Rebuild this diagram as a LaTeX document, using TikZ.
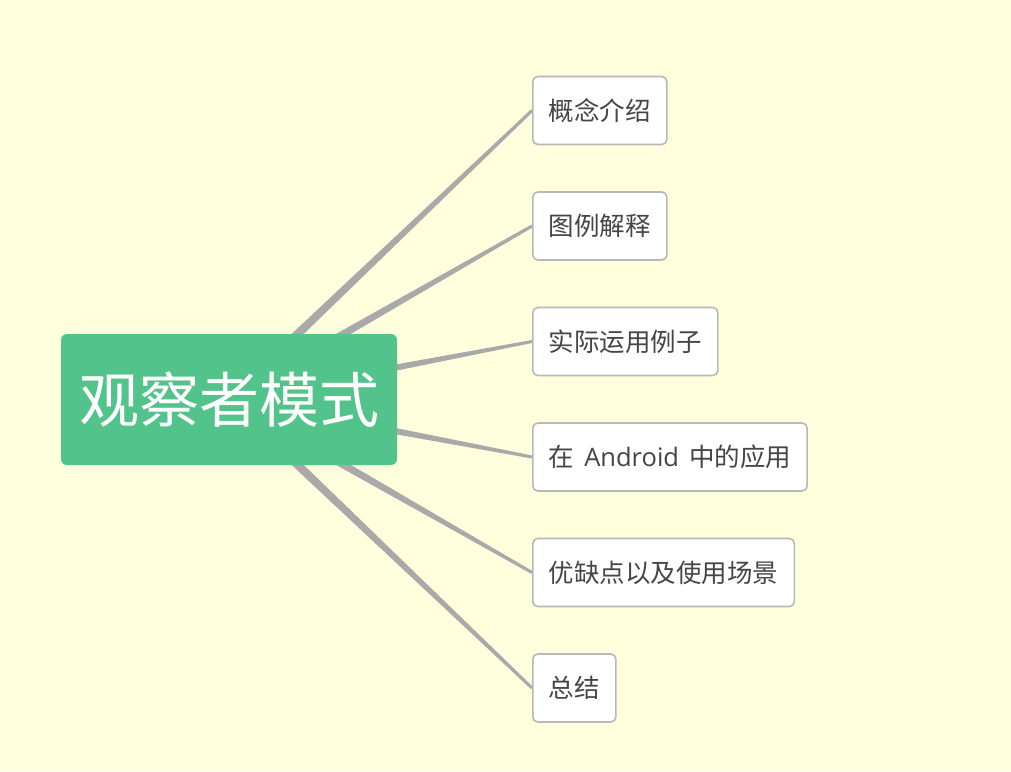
\documentclass[tikz,border=0pt]{standalone}
\usepackage{fontspec}
\setmainfont{Noto Sans CJK SC}
\newfontfamily\latinfont{Open Sans}
\usetikzlibrary{calc}
\pgfdeclarelayer{linklayer}
\pgfsetlayers{linklayer,main}
\definecolor{bgc}{HTML}{FFFFDD}
\definecolor{rootc}{HTML}{52C48B}
\definecolor{linkc}{HTML}{A9A9A9}
\definecolor{leafline}{HTML}{B8B8B8}
\definecolor{leaftext}{HTML}{454545}
\newcommand\taperlink[2]{%
  \fill[linkc] ($(#1.center)!5pt!90:(#2.west)$) -- ($(#2.west)!1.5pt!-90:(#1.center)$)
    -- ($(#2.west)!1.5pt!90:(#1.center)$) -- ($(#1.center)!5pt!-90:(#2.west)$) -- cycle;}
\begin{document}
\begin{tikzpicture}[x=1pt,y=-1pt,
  rootbox/.style={fill=rootc, rounded corners=6pt, minimum width=336pt, minimum height=131pt,
    inner sep=0pt, text=white, font=\fontsize{60}{70}\selectfont},
  leafbox/.style={draw=leafline, line width=1.6pt, fill=white, rounded corners=5pt,
    minimum height=68pt, inner xsep=16pt, inner ysep=0pt, anchor=west, text=leaftext,
    font=\fontsize{25.5}{30}\selectfont}]
\begin{pgfonlayer}{linklayer}
\fill[bgc] (0,0) rectangle (1011,771);
\end{pgfonlayer}
\useasboundingbox (0,0) rectangle (1011,771);
\node[rootbox] (root) at (229,399.5) {观察者模式};
\node[leafbox] (l1) at (532,110.5) {概念介绍};
\node[leafbox] (l2) at (532,226) {图例解释};
\node[leafbox] (l3) at (532,341.5) {实际运用例子};
\node[leafbox] (l4) at (532,457) {在\hspace{10pt}{\latinfont\fontsize{25.5}{30}\selectfont Android}\hspace{10pt}中的应用};
\node[leafbox] (l5) at (532,572.5) {优缺点以及使用场景};
\node[leafbox] (l6) at (532,688) {总结};
\begin{pgfonlayer}{linklayer}
\taperlink{root}{l1}
\taperlink{root}{l2}
\taperlink{root}{l3}
\taperlink{root}{l4}
\taperlink{root}{l5}
\taperlink{root}{l6}
\end{pgfonlayer}
\end{tikzpicture}
\end{document}
